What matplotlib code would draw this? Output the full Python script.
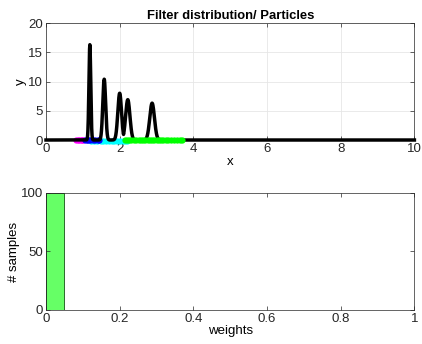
import numpy as np
import matplotlib
matplotlib.use("Agg")
import matplotlib.pyplot as plt

plt.rcParams['font.family'] = ['Liberation Sans', 'DejaVu Sans']

# Gaussian mixture components of the filter distribution
peak_centers = [1.19, 1.58, 2.00, 2.22, 2.88]
peak_heights = [16.3, 10.4, 8.0, 6.9, 6.3]

# particle positions (y = 0), by colour group
particles_magenta = [0.82, 0.86, 0.90, 0.94, 0.98, 1.01]
particles_blue = [1.05, 1.10, 1.15, 1.20, 1.27, 1.33, 1.40, 1.45]
particles_cyan = [1.22, 1.30, 1.38, 1.48, 1.55, 1.62, 1.70, 1.78, 1.85, 1.92, 2.00, 2.08, 2.15, 2.20]
particles_green = [2.15, 2.20, 2.26, 2.32, 2.38, 2.45, 2.52, 2.58, 2.64, 2.70, 2.76, 2.82,
                   2.88, 2.94, 3.00, 3.06, 3.12, 3.18, 3.25, 3.32, 3.40, 3.47, 3.55, 3.63, 3.70]

# weights histogram
weight_bin_edges = [0.0, 0.05]
weight_counts = [100]

fig = plt.figure(figsize=(4.22, 3.44), dpi=100)
ax1 = fig.add_axes([0.109, 0.593, 0.873, 0.34])
ax2 = fig.add_axes([0.109, 0.099, 0.873, 0.34])

# top: density + particles
xs = np.linspace(0, 10, 4001)
ys = np.zeros_like(xs)
for c, h in zip(peak_centers, peak_heights):
    s = 1.0 / (h * np.sqrt(2 * np.pi))
    ys = np.maximum(ys, h * np.exp(-0.5 * ((xs - c) / s) ** 2))

ms = 4.5
ax1.plot(particles_magenta, np.zeros(len(particles_magenta)), 'o', color='#ff00ff', ms=ms, mew=0, zorder=3, clip_on=False)
ax1.plot(particles_cyan, np.zeros(len(particles_cyan)) - 0.15, 'o', color='#00ffff', ms=ms, mew=0, zorder=3, clip_on=False)
ax1.plot(particles_blue, np.zeros(len(particles_blue)), 'o', color='#0000ff', ms=ms, mew=0, zorder=3, clip_on=False)
ax1.plot(xs, ys, color='black', lw=2.5, zorder=4, clip_on=False)
ax1.plot(particles_green, np.zeros(len(particles_green)), 'o', color='#00ff00', ms=ms, mew=0, zorder=5, clip_on=False)

ax1.set_xlim(0, 10)
ax1.set_ylim(0, 20)
ax1.set_xticks([0, 2, 4, 6, 8, 10])
ax1.set_yticks([0, 5, 10, 15, 20])
ax1.grid(True, color='#e6e6e6', lw=0.6)
ax1.set_axisbelow(True)
ax1.set_title('Filter distribution/ Particles', fontsize=9.4, fontweight='bold', pad=3)
ax1.set_xlabel('x', fontsize=9.5, labelpad=1)
ax1.set_ylabel('y', fontsize=9.5, labelpad=1)

# bottom: weights histogram
ax2.bar(weight_bin_edges[0], weight_counts[0], width=weight_bin_edges[1] - weight_bin_edges[0],
        align='edge', color='#66ff66', edgecolor='#2a6a2a', lw=0.7)
ax2.set_xlim(0, 1)
ax2.set_ylim(0, 100)
ax2.set_xticks([0, 0.2, 0.4, 0.6, 0.8, 1])
ax2.set_xticklabels(['0', '0.2', '0.4', '0.6', '0.8', '1'])
ax2.set_yticks([0, 50, 100])
ax2.set_xlabel('weights', fontsize=9.5, labelpad=0)
ax2.set_ylabel('# samples', fontsize=9.5, labelpad=1)

for ax in (ax1, ax2):
    ax.tick_params(direction='in', top=True, right=True, labelsize=9.5, length=3, width=0.5,
                   colors='#262626', pad=2)
    for sp in ax.spines.values():
        sp.set_color('#262626')
        sp.set_linewidth(0.5)

fig.savefig('out.png', dpi=100)
